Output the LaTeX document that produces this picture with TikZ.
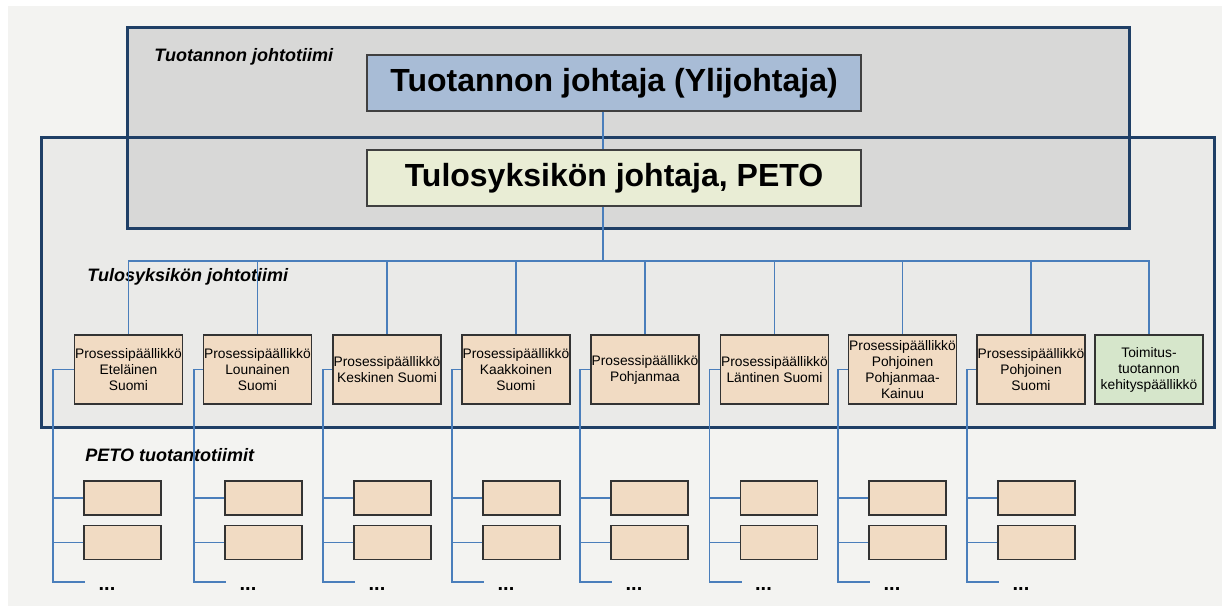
\documentclass[tikz,border=0pt]{standalone}
\usepackage{fontspec}
\setmainfont{Liberation Sans}
\usetikzlibrary{positioning}
\definecolor{frameblue}{HTML}{1F3F66}
\definecolor{linkblue}{HTML}{4A7EBB}
\definecolor{bgpaper}{HTML}{F3F3F1}
\definecolor{topgray}{HTML}{D8D8D7}
\definecolor{teamgray}{HTML}{EAEAE8}
\definecolor{chiefblue}{HTML}{A8BCD6}
\definecolor{unityellow}{HTML}{E9EDD5}
\definecolor{peach}{HTML}{F1DBC3}
\definecolor{devgreen}{HTML}{D6E6CB}

\begin{document}
\begin{tikzpicture}[
      x=0.5pt,
      y=-0.5pt,
      link/.style={
        draw=linkblue,
        line width=0.65pt
      },
      frame/.style={
        draw=frameblue,
        line width=1.4pt
      },
      chief/.style={
        draw=black!75,
        line width=0.7pt,
        minimum width=247pt,
        minimum height=28pt,
        inner sep=0pt,
        font=\fontsize{16}{18}\selectfont\bfseries
      },
      manager/.style={
        draw=black!80,
        fill=peach,
        line width=0.8pt,
        minimum width=54pt,
        minimum height=34.5pt,
        inner sep=0pt,
        align=center,
        font=\fontsize{6.9}{8}\selectfont
      },
      team/.style={
        draw=black!80,
        fill=peach,
        line width=0.8pt,
        minimum width=38.5pt,
        minimum height=17pt,
        inner sep=0pt
      },
      caption/.style={
        anchor=west,
        inner sep=0pt,
        font=\fontsize{9}{11}\selectfont\bfseries\itshape
      },
      dots/.style={
        inner sep=0pt,
        font=\fontsize{10}{12}\selectfont\bfseries
      }
    ]
      \useasboundingbox (0,0) rectangle (1222,606);
      \fill[white] (0,0) rectangle (1222,606);
      \fill[bgpaper] (8,6) rectangle (1222,606);

      % team frames
      \node[fill=teamgray,minimum width=586pt,minimum height=144.5pt,inner sep=0pt] (unitteam) at (628,282.5) {};
      \node[fill=topgray,minimum width=500.5pt,minimum height=100pt,inner sep=0pt] (prodteam) at (628.5,128) {};
      \draw[frame] (unitteam.north west) rectangle (unitteam.south east);
      \draw[frame] (prodteam.north west) rectangle (prodteam.south east);

      \node[caption] (prodcap) at (154,57) {Tuotannon johtotiimi};
      \node[caption] (unitcap) at (87,277) {Tulosyksikön johtotiimi};
      \node[caption] (petocap) at (85,455) {PETO tuotantotiimit};

      % chiefs
      \node[chief,fill=chiefblue] (tj) at (614,83) {Tuotannon johtaja (Ylijohtaja)};
      \node[chief,fill=unityellow] (tsj) at (614,178) {Tulosyksikön johtaja, PETO};

      \coordinate (bus) at (603,261);
      \draw[link] (tj.south -| bus) -- (tsj.north -| bus);
      \draw[link] (tsj.south -| bus) -- (bus);

      % process managers
      \foreach \n/\cx/\txt in {1/128.5/{Prosessipäällikkö\\Eteläinen\\Suomi},
                               2/257.5/{Prosessipäällikkö\\Lounainen\\Suomi},
                               3/387/{Prosessipäällikkö\\Keskinen Suomi},
                               4/516/{Prosessipäällikkö\\Kaakkoinen\\Suomi},
                               5/645/{Prosessipäällikkö\\Pohjanmaa},
                               6/774.5/{Prosessipäällikkö\\Läntinen Suomi},
                               7/902.5/{Prosessipäällikkö\\Pohjoinen\\Pohjanmaa-\\Kainuu},
                               8/1031/{Prosessipäällikkö\\Pohjoinen\\Suomi}}
        {
        \node[manager] (m\n) at (\cx,369.5) {\txt};
        \draw[link] (bus) -| (m\n.north);
        }
      \node[manager,fill=devgreen] (m9) at (1149,369.5) {Toimitus-\\tuotannon\\kehityspäällikkö};
      \draw[link] (bus) -| (m9.north);

      % production teams
      \foreach \n/\vx in {1/53,2/194,3/323,4/452,5/580,6/709.5,7/838,8/967}
        {
        \coordinate (v\n) at (\vx,369.5);
        \coordinate (e\n) at (\vx+32,582);
        \draw[link] (m\n.west) -- (v\n) |- (e\n);
        \node[team] (ta\n) at (\vx+69.5,498) {};
        \node[team] (tb\n) at (\vx+69.5,542.5) {};
        \draw[link] (ta\n.west) -- (ta\n.west -| v\n);
        \draw[link] (tb\n.west) -- (tb\n.west -| v\n);
        \node[dots] (dd\n) at (\vx+54,589) {...};
        }
    \end{tikzpicture}
\end{document}
